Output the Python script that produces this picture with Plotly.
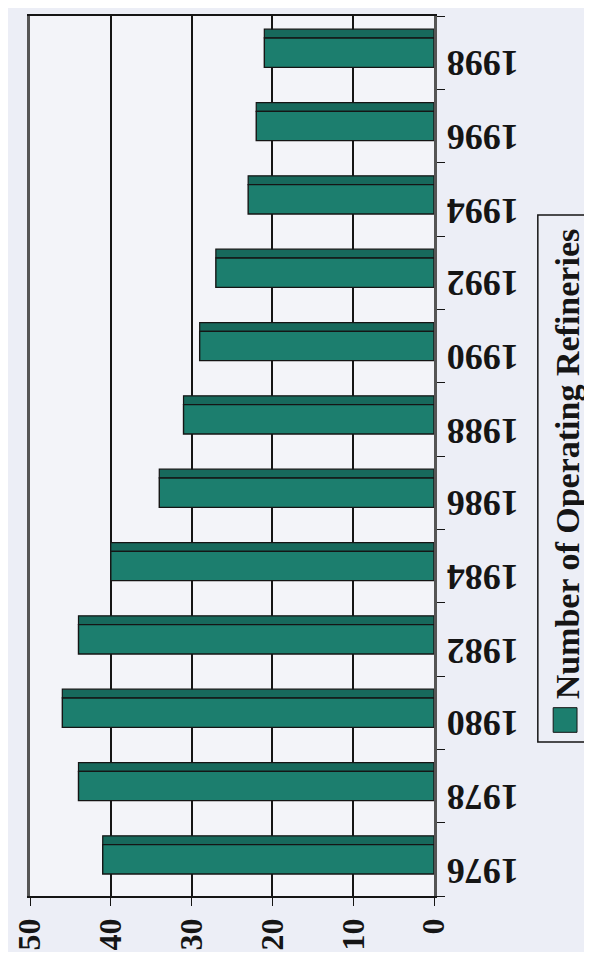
import plotly.graph_objects as go


# ---------------------------------
# DATA
# ---------------------------------

years = ["1976", "1978", "1980", "1982", "1984", "1986",
         "1988", "1990", "1992", "1994", "1996", "1998"]

refineries = [41, 44, 46, 44, 40, 34, 31, 29, 27, 23, 22, 21]

value_ticks = [0, 10, 20, 30, 40, 50]

series_name = "Number of Operating Refineries"


# ---------------------------------
# STYLE
# ---------------------------------

TEAL = "#1c7e6e"
TEAL_DARK = "#17695c"
INK = "#151515"
SERIF = "Liberation Serif, Times New Roman, serif"

fig = go.Figure()

# top face of each bar (fake 3d depth)
fig.add_trace(go.Bar(
    y=years,
    x=refineries,
    orientation="h",
    offset=0.2,
    width=0.12,
    marker=dict(color=TEAL_DARK, line=dict(color=INK, width=1.2)),
    showlegend=False,
    hoverinfo="skip"
))

# front face
fig.add_trace(go.Bar(
    y=years,
    x=refineries,
    orientation="h",
    offset=-0.2,
    width=0.4,
    name=series_name,
    marker=dict(color=TEAL, line=dict(color=INK, width=1.4)),
    showlegend=False,
    hovertemplate="<b>%{y}</b><br>Refineries: %{x}<extra></extra>"
))

# page body has an 8px margin, so the figure is sized to fit inside it
fig.update_layout(

    width=584,
    height=944,

    barmode="overlay",

    paper_bgcolor="#eceef6",
    plot_bgcolor="#f3f4f9",

    font=dict(family=SERIF, color=INK),

    margin=dict(l=22, r=158, t=8, b=56),

    showlegend=False
)

fig.update_xaxes(
    range=[50, 0],
    tickvals=value_ticks,
    ticktext=[str(v) for v in value_ticks],
    tickangle=-90,
    tickfont=dict(size=32, family=SERIF, color=INK, weight="bold"),
    ticklabeloverflow="allow",
    ticks="outside",
    ticklen=8,
    tickcolor=INK,
    showgrid=True,
    gridcolor=INK,
    gridwidth=1.5,
    zeroline=False,
    showline=True,
    linecolor=INK,
    linewidth=1.5,
    mirror=True,
    automargin=False,
    fixedrange=True
)

fig.update_yaxes(
    type="category",
    categoryorder="array",
    categoryarray=years,
    side="right",
    showticklabels=False,
    ticks="outside",
    tickson="boundaries",
    ticklen=8,
    tickcolor=INK,
    showgrid=False,
    showline=True,
    linecolor="#555555",
    linewidth=2.5,
    mirror=True,
    automargin=False,
    fixedrange=True
)

# year labels, upside down as in the scanned original
# (placed by category index so the category axis stays intact)
for i, yr in enumerate(years):
    fig.add_annotation(
        xref="paper", yref="y",
        x=1.027, y=i,
        xanchor="left",
        yshift=-11,
        text=yr,
        textangle=180,
        showarrow=False,
        font=dict(size=36, family=SERIF, color=INK, weight="bold")
    )

# rotated legend, drawn by hand since plotly legends cannot rotate
fig.add_shape(
    type="rect",
    xref="paper", yref="paper",
    x0=1.257, x1=1.379,
    y0=0.175, y1=0.774,
    line=dict(color=INK, width=1.5)
)

fig.add_shape(
    type="rect",
    xref="paper", yref="paper",
    x0=1.295, x1=1.354,
    y0=0.186, y1=0.214,
    fillcolor=TEAL,
    line=dict(color=INK, width=1)
)

fig.add_annotation(
    xref="paper", yref="paper",
    x=1.381, y=0.491,
    text=series_name,
    textangle=-90,
    showarrow=False,
    font=dict(size=34, family=SERIF, color=INK, weight="bold")
)

fig.write_html("out.html")
